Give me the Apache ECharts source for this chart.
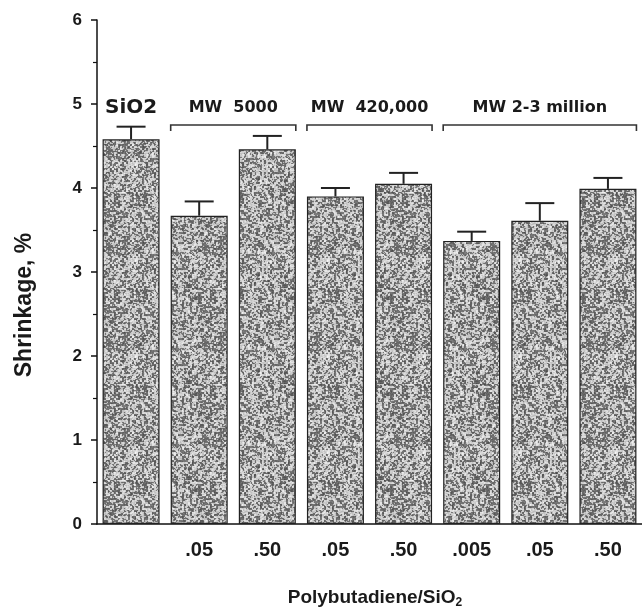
<!DOCTYPE html>
<html>
<head>
<meta charset="utf-8">
<script src="https://cdn.jsdelivr.net/npm/echarts@6/dist/echarts.min.js"></script>
<style>
  html, body { margin: 0; padding: 0; background: #fff; }
  #chart { width: 642px; height: 613px; }
</style>
</head>
<body>
<div id="chart"></div>
<script>
// categories (tick labels under the bars)
var xLabels = ['', '.05', '.50', '.05', '.50', '.005', '.05', '.50'];
// shrinkage %, bar tops
var shrinkage = [4.58, 3.67, 4.46, 3.90, 4.05, 3.37, 3.61, 3.99];
// upper end of error bars
var errTop = [4.73, 3.84, 4.62, 4.00, 4.18, 3.48, 3.82, 4.12];
// groups over the bars
var groupNames = ['SiO2', 'MW  5000', 'MW  420,000', 'MW 2-3 million'];
var groupFirst = [0, 1, 3, 5];
var groupLast = [0, 2, 4, 7];

// stipple texture for the bars (fixed hash, no randomness)
function hash(x, y) {
    var n = Math.imul(x, 374761393) + Math.imul(y, 668265263);
    n = Math.imul(n ^ (n >>> 13), 1274126177);
    return ((n ^ (n >>> 16)) >>> 0) / 4294967295;
}
function makeTexture() {
    var c = document.createElement('canvas');
    c.width = 96; c.height = 96;
    var ctx = c.getContext('2d');
    var img = ctx.createImageData(96, 96);
    for (var y = 0; y < 96; y++) {
        for (var x = 0; x < 96; x++) {
            var r = hash(x >> 1, y >> 1) * 0.55 + hash((x + 1) >> 1, y) * 0.25 + hash(x, (y + 1) >> 1) * 0.2;
            var v = r < 0.47 ? 70 + r * 120 : 185 + (r - 0.47) * 120;
            var i = (y * 96 + x) * 4;
            img.data[i] = img.data[i + 1] = img.data[i + 2] = v;
            img.data[i + 3] = 255;
        }
    }
    ctx.putImageData(img, 0, 0);
    return c;
}

var groupData = groupNames.map(function (n, i) { return [groupFirst[i], groupLast[i]]; });
var errData = shrinkage.map(function (v, i) { return [i, v, errTop[i]]; });

var chart = echarts.init(document.getElementById('chart'));
var option = {
    animation: false,
    backgroundColor: '#fff',
    grid: { left: 97, top: 20, width: 549, height: 504 },
    xAxis: [{
        type: 'category',
        data: xLabels,
        axisLine: { lineStyle: { color: '#111', width: 1.5 } },
        axisTick: { alignWithLabel: true, length: 7, lineStyle: { color: '#111', width: 1.5 } },
        axisLabel: {
            margin: 16, fontSize: 20, fontWeight: 'bold',
            fontFamily: 'Liberation Sans', color: '#1a1a1a'
        }
    }, {
        type: 'category',
        data: xLabels,
        position: 'bottom',
        axisLine: { show: false },
        axisTick: { length: 5, lineStyle: { color: '#111', width: 1.2 } },
        axisLabel: { show: false }
    }],
    yAxis: {
        type: 'value',
        min: 0, max: 6, interval: 1,
        axisLine: { show: true, lineStyle: { color: '#111', width: 1.5 } },
        axisTick: { show: true, length: 6, lineStyle: { color: '#111', width: 1.5 } },
        minorTick: { show: true, splitNumber: 2, length: 4, lineStyle: { color: '#111', width: 1.2 } },
        splitLine: { show: false },
        axisLabel: {
            margin: 15, fontSize: 17, fontWeight: 'bold',
            fontFamily: 'Liberation Sans', color: '#1a1a1a'
        }
    },
    graphic: [{
        type: 'text', x: 25, y: 305, rotation: Math.PI / 2,
        style: {
            text: 'Shrinkage, %', fill: '#1a1a1a',
            font: 'bold 23px "Liberation Sans"',
            textAlign: 'center', textVerticalAlign: 'middle'
        }
    }, {
        type: 'text', x: 375, y: 598,
        style: {
            text: '{a|Polybutadiene/SiO}{b|2}',
            textAlign: 'center', textVerticalAlign: 'middle',
            rich: {
                a: { fontSize: 19, fontWeight: 'bold', fontFamily: 'Liberation Sans', fill: '#1a1a1a', color: '#1a1a1a' },
                b: { fontSize: 12, fontWeight: 'bold', fontFamily: 'Liberation Sans', fill: '#1a1a1a', color: '#1a1a1a', padding: [10, 0, 0, 0] }
            }
        }
    }],
    series: [{
        type: 'bar',
        data: shrinkage,
        barWidth: 57,
        itemStyle: {
            color: { image: makeTexture(), repeat: 'repeat' },
            borderColor: '#222',
            borderWidth: 1.2
        }
    }, {
        type: 'custom',
        data: errData,
        renderItem: function (params, api) {
            var base = api.coord([api.value(0), api.value(1)]);
            var top = api.coord([api.value(0), api.value(2)]);
            var half = 14.5;
            return {
                type: 'group',
                children: [{
                    type: 'line',
                    shape: { x1: base[0], y1: base[1], x2: top[0], y2: top[1] },
                    style: { stroke: '#222', lineWidth: 2 }
                }, {
                    type: 'line',
                    shape: { x1: top[0] - half, y1: top[1], x2: top[0] + half, y2: top[1] },
                    style: { stroke: '#222', lineWidth: 2 }
                }]
            };
        }
    }, {
        type: 'custom',
        data: groupData,
        clip: false,
        renderItem: function (params, api) {
            var a = api.coord([api.value(0), 4.75]);
            var b = api.coord([api.value(1), 4.75]);
            var t = api.coord([api.value(0), 4.96]);
            var half = 28.5;
            var isSingle = api.value(0) === api.value(1);
            var name = groupNames[params.dataIndex];
            var children = [{
                type: 'text',
                x: (a[0] + b[0]) / 2, y: t[1],
                style: {
                    text: name, fill: '#1a1a1a',
                    font: 'bold ' + (isSingle ? 20 : 16) + 'px "DejaVu Sans"',
                    textAlign: 'center', textVerticalAlign: 'middle'
                }
            }];
            if (!isSingle) {
                var l = a[0] - half, r = b[0] + half, y = a[1];
                children.push({
                    type: 'polyline',
                    shape: { points: [[l, y + 6], [l, y], [r, y], [r, y + 6]] },
                    style: { stroke: '#333', lineWidth: 1.6, fill: null }
                });
            }
            return { type: 'group', children: children };
        }
    }]
};
chart.setOption(option);
</script>
</body>
</html>
